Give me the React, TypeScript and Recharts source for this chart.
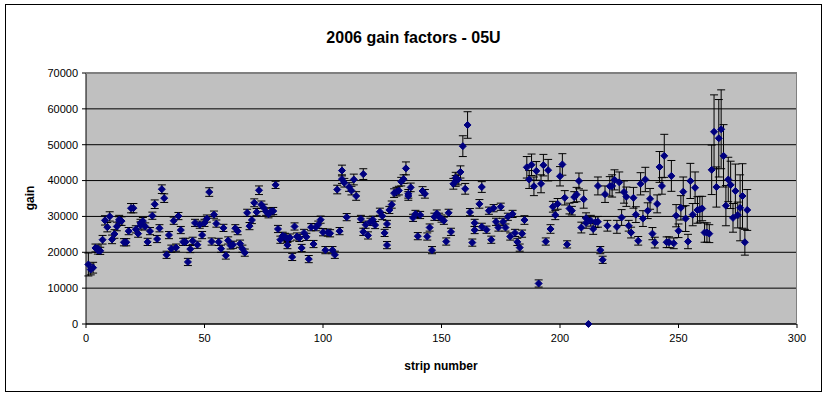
import { ScatterChart, Scatter, XAxis, YAxis, CartesianGrid, ErrorBar } from "recharts";

// strip number, gain, and the +/- error
const STRIP = [
  1, 2, 3, 4, 5, 5, 6, 7, 8, 9, 10, 11, 12, 13, 14, 14, 15, 16, 17, 18,
  19, 20, 21, 22, 23, 23, 24, 25, 26, 27, 28, 29, 30, 31, 32, 33, 34, 35, 36, 37,
  38, 39, 40, 41, 42, 43, 44, 45, 46, 47, 48, 49, 50, 51, 52, 53, 54, 55, 56, 57,
  58, 59, 60, 61, 62, 63, 64, 65, 66, 67, 68, 69, 70, 71, 72, 73, 74, 75, 76, 77,
  78, 79, 80, 81, 82, 83, 84, 85, 85, 86, 87, 88, 89, 90, 91, 92, 93, 94, 95, 96,
  97, 98, 99, 100, 101, 102, 103, 104, 105, 106, 107, 108, 108, 109, 110, 111, 112, 113, 114, 116,
  117, 117, 118, 119, 120, 121, 122, 124, 125, 126, 127, 127, 128, 129, 130, 131, 132, 133, 134, 135,
  136, 136, 137, 138, 139, 140, 141, 142, 143, 144, 145, 146, 147, 148, 149, 150, 151, 152, 153, 154,
  155, 156, 156, 157, 158, 159, 160, 161, 162, 163, 164, 164, 166, 167, 167, 169, 170, 171, 172, 173,
  174, 175, 176, 177, 178, 179, 180, 181, 182, 183, 184, 185, 186, 187, 188, 189, 190, 191, 192, 193,
  194, 195, 196, 197, 198, 199, 200, 201, 202, 203, 204, 205, 206, 207, 208, 209, 210, 211, 211, 212,
  213, 214, 215, 216, 216, 217, 218, 219, 220, 221, 222, 223, 224, 225, 226, 227, 228, 229, 230, 231,
  232, 233, 234, 235, 236, 237, 238, 239, 240, 241, 242, 243, 244, 245, 246, 247, 248, 249, 250, 251,
  252, 253, 254, 255, 256, 257, 258, 259, 260, 261, 262, 263, 264, 265, 266, 267, 268, 269, 270, 271,
  272, 273, 274, 275, 276, 277, 278, 279,
];

const GAIN = [
  16600, 15200, 15700, 21200, 21000, 20500, 20400, 23500, 28900, 27000, 30000, 23600, 25100, 27200, 28700, 29100, 28700, 22800, 22800, 25900,
  32300, 32300, 26400, 25200, 27500, 28200, 28700, 27200, 22900, 25900, 30200, 33400, 23700, 26700, 37600, 35100, 19300, 24800, 21000, 28800,
  21300, 30100, 26200, 22900, 22900, 17300, 20900, 23200, 28200, 22100, 27700, 24800, 28200, 29400, 36800, 23000, 30500, 28000, 22900, 21000,
  26800, 19100, 23300, 21900, 22100, 26700, 25900, 22400, 21000, 19900, 31000, 27300, 29000, 33800, 31200, 37300, 33300, 32400, 31300, 30600,
  31400, 31500, 38800, 26500, 23500, 24600, 24300, 23700, 22000, 24100, 18700, 27200, 24400, 24000, 21200, 25400, 24300, 18100, 27000, 22300,
  27000, 27700, 29100, 25600, 20600, 25500, 25300, 20600, 19300, 37500, 25900, 42800, 40400, 39400, 29800, 38200, 37200, 40300, 35700, 29300,
  41800, 25700, 27700, 24700, 28500, 29100, 27600, 31300, 30100, 25400, 27900, 22000, 31800, 33300, 36500, 36900, 37200, 39700, 40400, 43400,
  35700, 36300, 38100, 29600, 30700, 24500, 30400, 37100, 36300, 24400, 26900, 20600, 29900, 30800, 29900, 29400, 28800, 23000, 31000, 25700,
  39100, 40800, 39900, 40300, 42400, 49600, 37700, 55500, 31200, 22700, 28200, 26200, 33500, 27100, 38200, 26300, 31600, 23500, 32300, 28500,
  26900, 32700, 28500, 26900, 29900, 24400, 30700, 25400, 22900, 21300, 25200, 29000, 43700, 40300, 44400, 38400, 42700, 11300, 39100, 44300,
  23000, 42900, 26500, 32700, 30400, 33500, 41200, 44500, 35200, 22200, 32200, 31600, 35400, 36100, 39900, 26900, 34800, 28200, 29500, 0,
  28800, 26500, 28400, 28500, 38500, 20600, 17900, 36200, 27400, 38400, 38500, 40200, 27100, 39500, 29700, 36800, 35500, 27400, 25500, 35200,
  30500, 23200, 39100, 29400, 40300, 31600, 34900, 25200, 22700, 33500, 43800, 38500, 46900, 22800, 22800, 41300, 22500, 30200, 26000, 32400,
  36900, 29400, 23000, 39900, 30500, 38000, 31800, 32000, 32200, 25500, 25500, 25200, 43000, 53600, 38200, 51800, 54300, 46900, 33000, 40300,
  38800, 29600, 37100, 30400, 32400, 35700, 22800, 31800,
];

const ERR = [
  3200, 1500, 1500, 1100, 1000, 1000, 1000, 1200, 1300, 1300, 1300, 1200, 1200, 1200, 1200, 1200, 1200, 1000, 1000, 1000,
  1300, 1300, 1000, 1000, 1000, 1000, 1000, 1000, 1000, 1000, 1000, 1200, 1000, 1000, 1200, 1200, 1000, 1000, 1000, 1000,
  1000, 1000, 1000, 1000, 1000, 1000, 1000, 1000, 1000, 1000, 1000, 1000, 1000, 1000, 1200, 1000, 1000, 1000, 1000, 1000,
  1000, 1000, 1000, 1000, 1000, 1000, 1000, 1000, 1000, 1000, 1000, 1000, 1000, 1100, 1000, 1200, 1000, 1000, 1000, 1000,
  1000, 1000, 1000, 1000, 1000, 1000, 1000, 1000, 1000, 1000, 1000, 1000, 1000, 1000, 1000, 1000, 1000, 1000, 1000, 1000,
  1000, 1000, 1000, 1000, 1000, 1000, 1000, 1000, 1000, 1200, 1000, 1500, 1200, 1200, 1000, 1200, 1200, 1500, 1200, 1000,
  1500, 1000, 1000, 1000, 1000, 1000, 1000, 1000, 1000, 1000, 1000, 1000, 1000, 1000, 1200, 1200, 1200, 1200, 1200, 1800,
  1200, 1200, 1200, 1000, 1000, 1000, 1000, 1200, 1200, 1000, 1000, 1000, 1000, 1000, 1000, 1000, 1000, 1000, 1000, 1000,
  1500, 1500, 1500, 1500, 1700, 2900, 1500, 3700, 1000, 1000, 1000, 1000, 1200, 1000, 1500, 1000, 1000, 1000, 1000, 1000,
  1000, 1000, 1000, 1000, 1000, 1000, 1000, 1000, 1000, 1000, 1000, 1200, 3000, 2500, 3000, 2600, 2600, 1000, 2500, 3000,
  1000, 3000, 1200, 1500, 1300, 1500, 2700, 3000, 2000, 1000, 1500, 1200, 1500, 2000, 2200, 1500, 2500, 1500, 1500, 0,
  1500, 1500, 1500, 1500, 2500, 1000, 1000, 2300, 1500, 2700, 3100, 2800, 1800, 2900, 2200, 3100, 2700, 1500, 1500, 2900,
  2200, 1200, 3100, 2200, 3400, 2200, 2900, 1700, 1500, 2500, 4300, 2300, 6000, 1500, 1500, 4300, 1500, 3100, 1900, 3400,
  4100, 3600, 2000, 4900, 3100, 4400, 3700, 3600, 3400, 2700, 2700, 2500, 6900, 10300, 5600, 10800, 11000, 8700, 5600, 6200,
  6600, 4000, 7500, 3600, 9200, 9000, 3600, 5700,
];

const X_TICKS = [0, 50, 100, 150, 200, 250, 300];
const Y_TICKS = [0, 10000, 20000, 30000, 40000, 50000, 60000, 70000];

const MARKER = "#000080";
const FONT = '"Liberation Sans", Arial, sans-serif';

const data = STRIP.map((s, i) => ({ strip: s, gain: GAIN[i], err: ERR[i] }));

function Diamond(props: any) {
  const { cx, cy } = props;
  const r = 3.5;
  return (
    <path
      d={`M${cx},${cy - r}L${cx + r},${cy}L${cx},${cy + r}L${cx - r},${cy}Z`}
      fill={MARKER}
      stroke={MARKER}
      strokeWidth={1}
    />
  );
}

export default function App() {
  return (
    <div
      style={{
        position: "absolute",
        left: 0,
        top: 0,
        width: 827,
        height: 395,
        background: "#fff",
        fontFamily: FONT,
      }}
    >
      <div
        style={{
          position: "absolute",
          left: 5,
          top: 4,
          width: 815,
          height: 386,
          border: "1px solid #000",
        }}
      />
      <div
        style={{
          position: "absolute",
          left: 0,
          width: 827,
          top: 29,
          textAlign: "center",
          fontWeight: "bold",
          fontSize: 16,
        }}
      >
        2006 gain factors - 05U
      </div>
      <ScatterChart
        width={827}
        height={395}
        margin={{ top: 73, right: 30, bottom: 41, left: 26 }}
      >
        <CartesianGrid fill="#C0C0C0" stroke="#000" vertical={false} />
        <XAxis
          type="number"
          dataKey="strip"
          domain={[0, 300]}
          ticks={X_TICKS}
          interval={0}
          height={30}
          tickSize={4}
          tickMargin={6}
          stroke="#000"
          tick={{ fill: "#000", fontSize: 11 }}
        />
        <YAxis
          type="number"
          dataKey="gain"
          domain={[0, 70000]}
          ticks={Y_TICKS}
          interval={0}
          width={60}
          tickSize={4}
          tickMargin={4}
          stroke="#000"
          tick={{ fill: "#000", fontSize: 11 }}
        />
        <Scatter data={data} shape={Diamond} isAnimationActive={false}>
          <ErrorBar dataKey="err" direction="y" width={4} stroke="#000" strokeWidth={1} />
        </Scatter>
      </ScatterChart>
      <div
        style={{
          position: "absolute",
          left: 86,
          top: 73,
          width: 711,
          height: 251,
          boxSizing: "border-box",
          borderTop: "1px solid #808080",
          borderRight: "1px solid #808080",
          pointerEvents: "none",
        }}
      />
      <div
        style={{
          position: "absolute",
          left: 30,
          top: 198,
          transform: "translate(-50%, -50%) rotate(-90deg)",
          fontWeight: "bold",
          fontSize: 12,
        }}
      >
        gain
      </div>
      <div
        style={{
          position: "absolute",
          left: 0,
          width: 882,
          top: 359,
          textAlign: "center",
          fontWeight: "bold",
          fontSize: 12,
        }}
      >
        strip number
      </div>
    </div>
  );
}
